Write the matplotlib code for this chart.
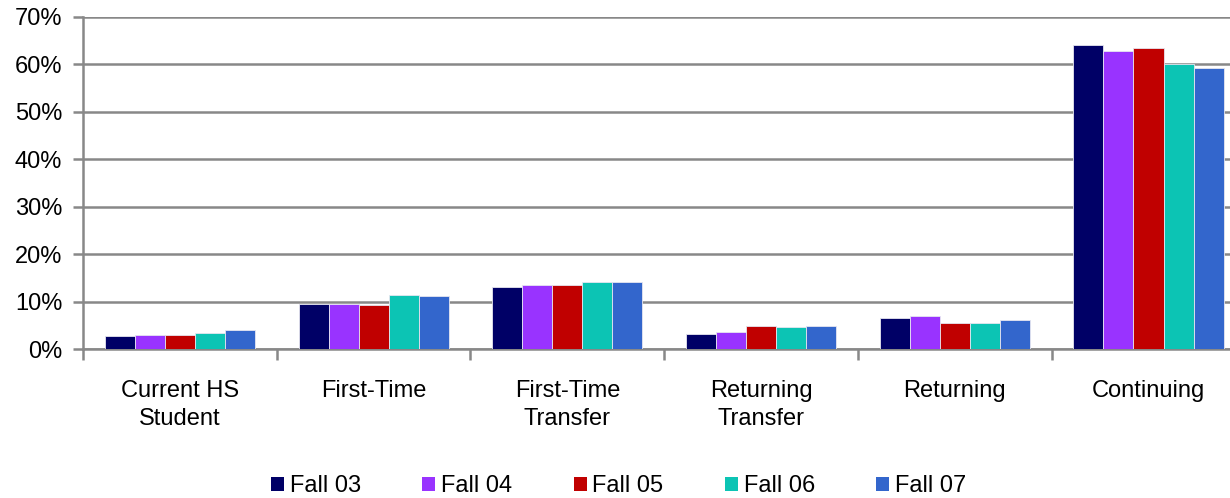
import numpy as np
import matplotlib.pyplot as plt
from matplotlib.ticker import FixedLocator, PercentFormatter
from matplotlib.patches import Patch

plt.rcParams['font.family'] = ['Liberation Sans', 'DejaVu Sans']

categories = ["Current HS\nStudent", "First-Time", "First-Time\nTransfer",
              "Returning\nTransfer", "Returning", "Continuing"]
terms = ["Fall 03", "Fall 04", "Fall 05", "Fall 06", "Fall 07"]
fall03 = [2.8, 9.6, 13.1, 3.2, 6.5, 64.0]
fall04 = [3.0, 9.5, 13.6, 3.5, 6.9, 62.9]
fall05 = [3.0, 9.3, 13.5, 4.8, 5.4, 63.4]
fall06 = [3.3, 11.3, 14.2, 4.6, 5.6, 60.1]
fall07 = [4.0, 11.1, 14.2, 4.8, 6.1, 59.3]
colors = ["#000066", "#9933FF", "#C00000", "#0CC4B4", "#3366CC"]

series = [fall03, fall04, fall05, fall06, fall07]

fig = plt.figure(figsize=(12.3, 4.98), dpi=100)
ax = fig.add_axes([0.0675, 0.299, 0.945, 0.667])

x = np.arange(len(categories))
w = 0.155
for i, (vals, c) in enumerate(zip(series, colors)):
    ax.bar(x + (i - 2) * w, vals, width=w, color=c, edgecolor="#E6E6F0",
           linewidth=0.6, zorder=3)

ax.set_xlim(-0.5, len(categories) - 0.5)
ax.set_ylim(0, 70)
ax.set_yticks(np.arange(0, 71, 10))
ax.yaxis.set_major_formatter(PercentFormatter(decimals=0))
ax.grid(axis="y", color="#888888", linewidth=1.8, zorder=0)

ax.xaxis.set_major_locator(FixedLocator(np.arange(-0.5, len(categories), 1.0)))
ax.xaxis.set_minor_locator(FixedLocator(x))
ax.set_xticklabels([""] * 7)
ax.set_xticklabels(categories, minor=True, linespacing=1.4)
ax.tick_params(axis="x", which="major", length=8, width=1.8, color="#888888")
ax.tick_params(axis="x", which="minor", length=0, pad=22, labelsize=17)
ax.tick_params(axis="y", length=7, width=1.8, color="#888888", labelsize=17, pad=8)

for s in ["top", "right"]:
    ax.spines[s].set_visible(False)
for s in ["left", "bottom"]:
    ax.spines[s].set_color("#888888")
    ax.spines[s].set_linewidth(1.8)

handles = [Patch(facecolor=c, label=t) for c, t in zip(colors, terms)]
fig.legend(handles=handles, loc="center", bbox_to_anchor=(0.503, 0.024), ncol=5,
           frameon=False, fontsize=17, handlelength=0.55, handleheight=0.55,
           handletextpad=0.25, columnspacing=2.6)

fig.savefig("out.png", dpi=100)
